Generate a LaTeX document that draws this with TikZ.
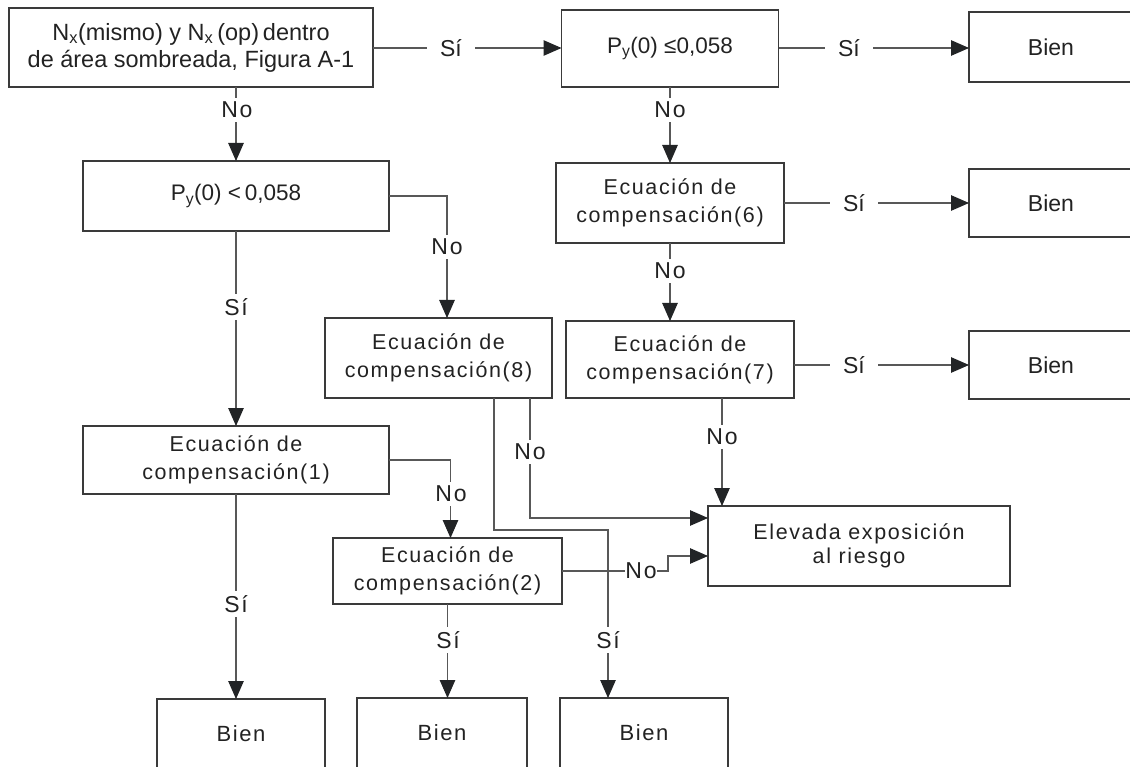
\documentclass[tikz,border=0pt]{standalone}
\usepackage{fontspec}
\setmainfont{Liberation Sans}
\newfontfamily\trk[LetterSpace=7.5]{Liberation Sans}
\usetikzlibrary{arrows.meta,calc}
\definecolor{boxc}{HTML}{3A3A3A}
\definecolor{linec}{HTML}{585858}
\definecolor{txt}{HTML}{222222}
\definecolor{tipc}{HTML}{222426}
\begin{document}
\begin{tikzpicture}[x=1pt,y=-1pt,
  box/.style={draw=boxc, line width=1.2pt, inner sep=0pt, outer sep=0pt, align=center, text=txt},
  eqbox/.style={box, font=\trk\fontsize{21.5}{28}\selectfont},
  plain/.style={box, font=\fontsize{23}{27}\selectfont},
  conn/.style={draw=linec, line width=1.05pt, -{Triangle[length=18pt,width=15.5pt,color=tipc]}},
  lab/.style={fill=white, text=txt, inner sep=0pt, font=\fontsize{23}{27}\selectfont},
  vlab/.style={lab, font=\trk\fontsize{23}{27}\selectfont, inner xsep=1pt, inner ysep=4pt},
  hlab/.style={lab, inner xsep=13pt, inner ysep=1pt}
]
\useasboundingbox (0,0) rectangle (1130,767);
\clip (0,0) rectangle (1130,767);

% boxes
\node[plain, font=\fontsize{23.5}{27}\selectfont, minimum width=364pt, minimum height=79pt] (A) at (191,47.5)
  {N\textsubscript{x}(mismo) y N\textsubscript{x}\,(op)\,dentro\\de área sombreada, Figura A-1};
\node[plain, font=\fontsize{22.5}{27}\selectfont, minimum width=217pt, minimum height=77pt] (B) at (670,48.5)
  {P\textsubscript{y}(0) ≤0,058};
\node[plain, minimum width=164pt, minimum height=70pt] (Bien1) at (1051,47) {Bien};
\node[plain, font=\fontsize{22.5}{27}\selectfont, minimum width=306pt, minimum height=70pt] (C) at (236,196)
  {P\textsubscript{y}(0) <\,0,058};
\node[eqbox, minimum width=228pt, minimum height=80pt] (Ec6) at (670,203) {Ecuación de\\compensación(6)};
\node[plain, minimum width=164pt, minimum height=68pt] (Bien2) at (1051,203) {Bien};
\node[eqbox, minimum width=227pt, minimum height=80pt] (Ec8) at (438.5,358) {Ecuación de\\compensación(8)};
\node[eqbox, minimum width=228pt, minimum height=77pt] (Ec7) at (680,359.5) {Ecuación de\\compensación(7)};
\node[plain, minimum width=164pt, minimum height=68pt] (Bien3) at (1051,365) {Bien};
\node[eqbox, minimum width=306pt, minimum height=68pt] (Ec1) at (236,460) {Ecuación de\\compensación(1)};
\node[eqbox, minimum width=229pt, minimum height=66pt] (Ec2) at (447.5,571) {Ecuación de\\compensación(2)};
\node[eqbox, font=\trk\fontsize{21.5}{24}\selectfont, minimum width=302pt, minimum height=80pt] (Elev) at (859,546)
  {Elevada exposición\\al riesgo};
\node[plain, font=\trk\fontsize{22}{27}\selectfont, minimum width=168pt, minimum height=70pt] (Bien4) at (241,734) {Bien};
\node[plain, font=\trk\fontsize{22}{27}\selectfont, minimum width=170pt, minimum height=70pt] (Bien5) at (442,733) {Bien};
\node[plain, font=\trk\fontsize{22}{27}\selectfont, minimum width=168pt, minimum height=70pt] (Bien6) at (644,733) {Bien};

% helper coordinates
\coordinate (e7out) at ($(Ec7.south -| Elev.north west)+(14,0)$);
\coordinate (e7in) at ($(Elev.north west)+(14,0)$);
\coordinate (e8a) at ($(Ec8.south east)+(-22,0)$);
\coordinate (e8b) at ($(Ec8.south east)+(-58,0)$);
\coordinate (elA) at ($(Elev.west)+(0,-28)$);
\coordinate (elB) at ($(Elev.west)+(0,10)$);
\coordinate (b6in) at ($(Bien6.north)+(-36,0)$);
\coordinate (e2in) at ($(Ec2.north)+(3,0)$);
\coordinate (e8in) at ($(Ec8.north)+(8.5,0)$);

% connectors
\draw[conn] (A.east |- 0,48) -- (B.west |- 0,48);
\draw[conn] (B.east |- 0,48) -- (Bien1.west |- 0,48);
\draw[conn] (A.south -| C.north) -- (C.north);
\draw[conn] (C.east) -| (e8in);
\draw[conn] (C.south) -- (Ec1.north);
\draw[conn] (B.south) -- (B.south |- Ec6.north);
\draw[conn] (Ec6.east) -- (Ec6.east -| Bien2.west);
\draw[conn] (Ec6.south) -- (Ec6.south |- Ec7.north);
\draw[conn] (Bien3.west -| Ec7.east) -- (Bien3.west);
\draw[conn] (e7out) -- (e7in);
\draw[conn] (e8a) |- (elA);
\draw[conn] (e8b) -- ++(0,132) -| (b6in);
\draw[conn] (Ec1.east) -| (e2in);
\draw[conn] (Ec1.south) -- (Ec1.south |- Bien4.north);
\draw[conn] (Ec2.east) -- ++(106,0) |- (elB);
\draw[conn] (Ec2.south) -- (Ec2.south |- Bien5.north);

% labels
\node[hlab] (s1) at (451,48) {Sí};
\node[hlab] (s2) at (849,48) {Sí};
\node[vlab] (n1) at (237,110) {No};
\node[vlab] (n2) at (670,110) {No};
\node[vlab] (n3) at (447,247) {No};
\node[vlab] (s3) at (236,307) {Sí};
\node[hlab] (s4) at (854,203) {Sí};
\node[vlab] (n4) at (670,271) {No};
\node[hlab] (s5) at (854,365) {Sí};
\node[vlab] (n5) at (530,452) {No};
\node[vlab] (n6) at (722,437) {No};
\node[vlab] (n7) at (451,494) {No};
\node[vlab] (s6) at (236,604) {Sí};
\node[vlab, inner xsep=0.5pt] (n8) at (641,571) {No};
\node[vlab] (s7) at (448,640) {Sí};
\node[vlab] (s8) at (608,640) {Sí};
\end{tikzpicture}
\end{document}
